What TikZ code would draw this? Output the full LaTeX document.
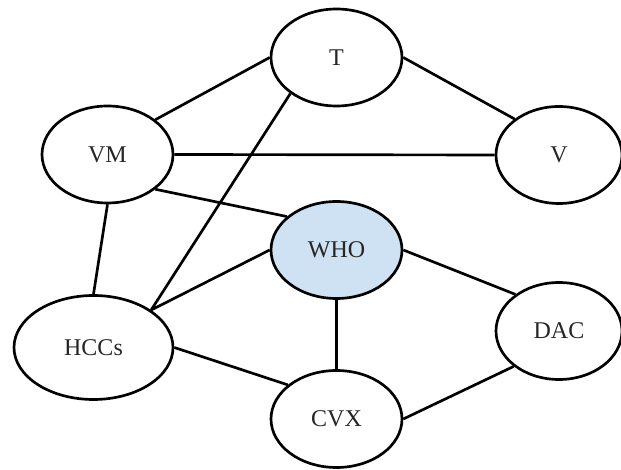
\documentclass[tikz,border=0pt]{standalone}
\usepackage{fontspec}
\setmainfont{Liberation Serif}
\usetikzlibrary{shapes.geometric}
\definecolor{whoblue}{HTML}{CFE2F3}
\newcommand{\edgewidth}{2pt}

\begin{document}
\begin{tikzpicture}[x=.75pt,y=.75pt,
    actor/.style={draw, ellipse, line width=\edgewidth, inner sep=0pt,
      minimum width=131\unitlength, minimum height=97\unitlength,
      font=\fontsize{18}{21}\selectfont, text=black!85}]
        \setlength{\unitlength}{.75pt}
        \useasboundingbox (0,0) rectangle (621,470);
        \node (T) at (336.5,412.5)  [actor] {T};
        \node (VM) at (107.5,315.5)  [actor] {VM};
        \node (V) at (559,315)  [actor, minimum width=126\unitlength] {V};
        \node (WHO) at (336.5,220)  [actor, fill=whoblue] {WHO};
        \node (HCCs) at (93.5,122.5)  [actor, minimum width=159\unitlength, minimum height=104\unitlength] {HCCs};
        \node (DAC) at (559,139)  [actor, minimum width=126\unitlength] {DAC};
        \node (CVX) at (336.5,51)  [actor] {CVX};
        \draw[line width=\edgewidth]
        (VM.36) to (T.west)
        (T.east) to (V.141)
        (VM.east) to (V.west)
        (VM.324) to (WHO.146)
        (T.218) to (HCCs.33)
        (VM.south) to (HCCs.north)
        (HCCs.33) to (WHO.west)
        (WHO.south) to (CVX.north)
        (WHO.east) to (DAC.140)
        (HCCs.east) to (CVX.145)
        (CVX.east) to (DAC.218);
\end{tikzpicture}
\end{document}
